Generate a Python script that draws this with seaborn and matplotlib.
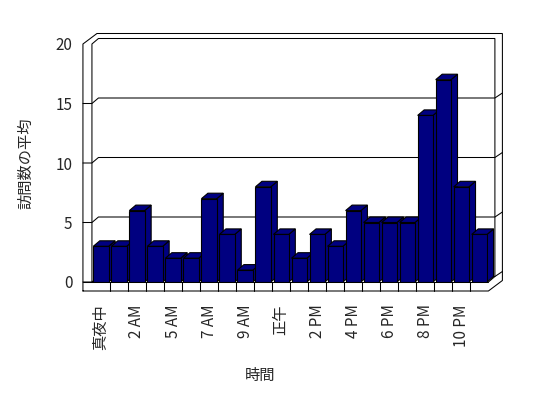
import matplotlib
matplotlib.use("Agg")
import matplotlib.pyplot as plt
import seaborn as sns
import pandas as pd
from matplotlib.patches import Polygon

# ---- data ----
hours = ["真夜中", "1 AM", "2 AM", "3 AM", "5 AM", "6 AM", "7 AM", "8 AM", "9 AM",
         "10 AM", "正午", "1 PM", "2 PM", "3 PM", "4 PM", "5 PM", "6 PM", "7 PM",
         "8 PM", "9 PM", "10 PM", "11 PM"]
visits = [3, 3, 6, 3, 2, 2, 7, 4, 1, 8, 4, 2, 4, 3, 6, 5, 5, 5, 14, 17, 8, 4]
y_ticks = [0, 5, 10, 15, 20]
x_title = "時間"
y_title = "訪問数の平均"

sns.set_theme(style="white")
plt.rcParams['font.family'] = ['Noto Sans CJK JP', 'DejaVu Sans']

W, H = 548, 398
fig = plt.figure(figsize=(W / 100, H / 100), dpi=100)
fig.patch.set_facecolor("white")

left_px, right_px, bottom_px, top_px = 91.94, 488.4, 282.0, 44.0
ax = fig.add_axes([left_px / W, (H - bottom_px) / H,
                   (right_px - left_px) / W, (bottom_px - top_px) / H])

df = pd.DataFrame({x_title: hours, y_title: visits})
sns.barplot(data=df, x=x_title, y=y_title, color="#000080", width=0.85,
            edgecolor="black", linewidth=0.8, saturation=1, ax=ax, zorder=3)

n = len(hours)
xl, xr = -0.5, n - 0.5
ymax = y_ticks[-1]
ax.set_xlim(xl, xr)
ax.set_ylim(0, ymax)
ax.set_facecolor("white")
for s in ax.spines.values():
    s.set_visible(False)

ppx = (right_px - left_px) / (xr - xl)
ppy = (bottom_px - top_px) / ymax


def P(x, y, ox=0.0, oy=0.0):
    """data point shifted by pixel offsets (ox right, oy up)"""
    return (x + ox / ppx, y + oy / ppy)


B = (6.5, 5.5)     # back wall inner plane / bar depth
O = (14.0, 10.5)   # back wall outer plane
wl = 9.0           # left wall thickness (px)
fl = 9.0           # floor thickness (px)
lw = 0.75


def line(pts, z=1):
    xs = [p[0] for p in pts]
    ys = [p[1] for p in pts]
    ax.plot(xs, ys, color="black", lw=lw, clip_on=False, zorder=z,
            solid_joinstyle="miter")


# outer silhouette
line([P(xl, 0, -wl, -fl), P(xl, ymax, -wl, 0), P(xl, ymax, -wl + O[0], O[1]),
      P(xr, ymax, *O), P(xr, 0, O[0], -fl + O[1]), P(xr, 0, 0, -fl),
      P(xl, 0, -wl, -fl)])
# inner lines
line([P(xl, 0), P(xl, ymax), P(xl, ymax, *B), P(xr, ymax, *B),
      P(xr, 0, *B), P(xr, 0)])
# floor top front edge
line([P(xl, 0, -wl, 0), P(xr, 0)], z=4)
# floor dividers
for i in range(1, n):
    line([P(i - 0.5, 0, 0, -fl), P(i - 0.5, 0)], z=4)
# gridlines on walls
for v in y_ticks[:-1]:
    line([P(xl, v, -wl, 0), P(xl, v), P(xl, v, *B), P(xr, v, *B), P(xr, v, *O)])

# 3D faces of bars
dxd, dyd = B[0] / ppx, B[1] / ppy
for i, p in enumerate(list(ax.patches)):
    z = 3 + i * 0.01
    p.set_zorder(z + 0.005)
    x0, w, h = p.get_x(), p.get_width(), p.get_height()
    top = Polygon([(x0, h), (x0 + w, h), (x0 + w + dxd, h + dyd), (x0 + dxd, h + dyd)],
                  closed=True, facecolor="#000080", edgecolor="black", lw=0.8,
                  zorder=z, clip_on=False)
    side = Polygon([(x0 + w, 0), (x0 + w + dxd, dyd), (x0 + w + dxd, h + dyd), (x0 + w, h)],
                   closed=True, facecolor="#000080", edgecolor="black", lw=0.8,
                   zorder=z, clip_on=False)
    ax.add_patch(side)
    ax.add_patch(top)

# ticks
ax.set_yticks(y_ticks)
ax.set_yticklabels([str(t) for t in y_ticks], fontsize=11)
ax.set_xticks(range(0, n, 2))
ax.set_xticklabels(hours[::2], rotation=90, fontsize=11)
ax.tick_params(axis="y", length=0, pad=14)
ax.tick_params(axis="x", length=0, pad=16)

ax.set_xlabel(x_title, fontsize=11)
ax.set_ylabel(y_title, fontsize=11)
ax.xaxis.set_label_coords((260 - left_px) / (right_px - left_px),
                          (bottom_px - 367) / (bottom_px - top_px))
ax.yaxis.label.set_verticalalignment("center")
ax.yaxis.set_label_coords((26 - left_px) / (right_px - left_px), 0.5)

fig.savefig("out.png", dpi=100, facecolor="white")
